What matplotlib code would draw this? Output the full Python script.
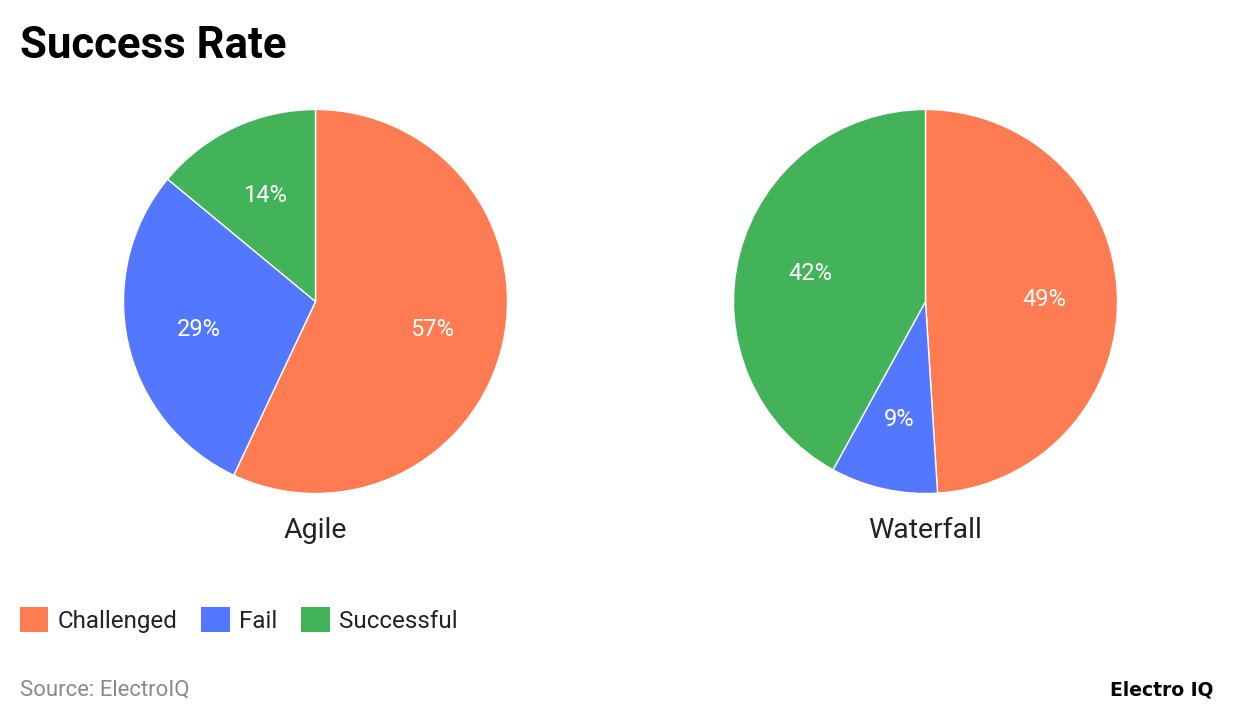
import matplotlib
matplotlib.use("Agg")
import matplotlib.pyplot as plt
from matplotlib.patches import Patch

plt.rcParams['font.family'] = ['Roboto', 'DejaVu Sans']

categories = ["Challenged", "Fail", "Successful"]
agile = [57, 29, 14]
waterfall = [49, 9, 42]
pie_titles = ["Agile", "Waterfall"]
colors = ["#FF7B51", "#5378FF", "#43B35A"]

W, H = 1240, 720
fig = plt.figure(figsize=(W / 100, H / 100), dpi=100)

def px_axes(cx, cy, r):
    return fig.add_axes([(cx - r) / W, 1 - (cy + r) / H, 2 * r / W, 2 * r / H])

r = 192
centers = [(315.5, 301.5), (925.5, 301.5)]
for (cx, cy), vals, name in zip(centers, [agile, waterfall], pie_titles):
    ax = px_axes(cx, cy, r)
    wedges, texts, autotexts = ax.pie(
        vals, colors=colors, startangle=90, counterclock=False,
        autopct=lambda p: f"{p:.0f}%", pctdistance=0.62,
        wedgeprops=dict(edgecolor="white", linewidth=1),
        textprops=dict(color="white", fontsize=17))
    for t in autotexts:
        x, y = t.get_position()
        t.set_position((x, y - 0.01))
    ax.set_xlim(-1, 1)
    ax.set_ylim(-1, 1)
    ax.set_aspect("equal")
    ax.axis("off")
    fig.text(cx / W, 1 - 530 / H, name, ha="center", va="center",
             fontsize=20.5, color="#222222")

fig.text(20 / W, 1 - 46.5 / H, "Success Rate", ha="left", va="center",
         fontsize=31.5, fontweight="bold", color="black")

handles = [Patch(facecolor=c, edgecolor="none") for c in colors]
fig.legend(handles, categories, loc="center left",
           bbox_to_anchor=(20 / W, 1 - 620 / H), ncol=3, frameon=False,
           borderpad=0, borderaxespad=0,
           fontsize=17.4, handlelength=1.17, handleheight=1.17,
           handletextpad=0.38, columnspacing=1.0, labelcolor="#222222")

fig.text(20 / W, 1 - 690 / H, "Source: ElectroIQ", ha="left", va="center",
         fontsize=15.9, color="#8a8a8a")
fig.text(1214 / W, 1 - 690 / H, "Electro IQ", ha="right", va="center",
         fontsize=13.5, fontweight="bold", color="black",
         family=["DejaVu Sans"])

fig.savefig("out.png", dpi=100, facecolor="white")
